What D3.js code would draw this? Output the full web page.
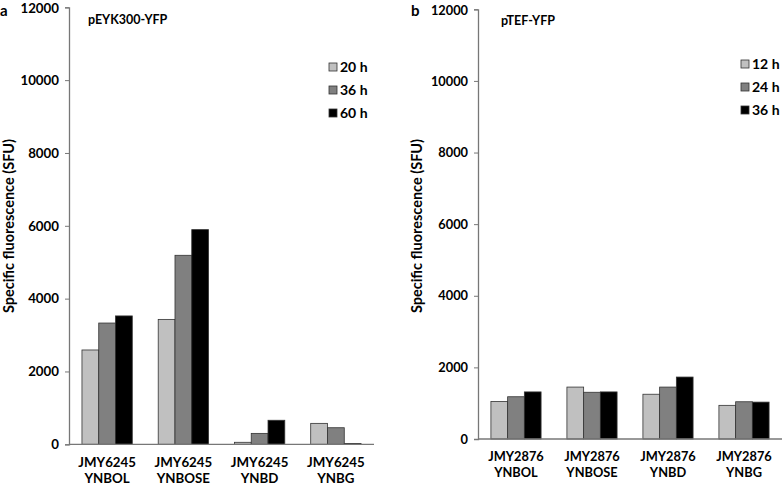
<!DOCTYPE html>
<html><head><meta charset="utf-8">
<script src="https://cdn.jsdelivr.net/npm/d3@7"></script>
<style>
body{margin:0;background:#fff;}
text{font-family:Lato,"Open Sans",sans-serif;font-weight:700;fill:#000;}
</style></head>
<body><svg id="c" width="784" height="486"></svg>
<script>
const categoriesA = ["JMY6245|YNBOL","JMY6245|YNBOSE","JMY6245|YNBD","JMY6245|YNBG"];
const seriesNamesA = ["20 h","36 h","60 h"];
const valuesA20 = [2590, 3430, 55, 575];
const valuesA36 = [3330, 5190, 300, 455];
const valuesA60 = [3525, 5895, 660, 20];

const categoriesB = ["JMY2876|YNBOL","JMY2876|YNBOSE","JMY2876|YNBD","JMY2876|YNBG"];
const seriesNamesB = ["12 h","24 h","36 h"];
const valuesB12 = [1050, 1450, 1250, 940];
const valuesB24 = [1180, 1305, 1450, 1040];
const valuesB36 = [1315, 1315, 1730, 1030];

const yTicks = [0,2000,4000,6000,8000,10000,12000];
const colors = ["#c0c0c0","#808080","#000000"];

const svg = d3.select("#c");

function panel(o){
  const g = svg.append("g");
  const y = d3.scaleLinear().domain([0,12000]).range([o.y0,o.y1]);
  const x0 = d3.scaleBand().domain(o.cats).range([o.xl,o.xr]).paddingInner(0.34).paddingOuter(0.17);
  const x1 = d3.scaleBand().domain([0,1,2]).range([0,x0.bandwidth()]);
  o.cats.forEach((c,i)=>{
    o.series.forEach((vals,s)=>{
      g.append("rect")
        .attr("x", x0(c)+x1(s))
        .attr("y", y(vals[i]))
        .attr("width", x1.bandwidth())
        .attr("height", y(0)-y(vals[i]))
        .attr("fill", colors[s])
        .attr("stroke","#333").attr("stroke-width",0.8);
    });
  });
  const ya = g.append("g").attr("transform",`translate(${o.xl},0)`)
    .call(d3.axisLeft(y).tickValues(yTicks).tickSize(4).tickFormat(d3.format("d")));
  ya.select(".domain").attr("stroke","#777").attr("stroke-width",1.3);
  ya.selectAll(".tick line").attr("stroke","#777");
  ya.selectAll("text").attr("font-size",o.fs).attr("x",-10)
    .attr("dy", d => d === 12000 ? "0.42em" : "0.32em");
  g.append("line").attr("x1",o.xl).attr("x2",o.xr).attr("y1",y(0)).attr("y2",y(0))
    .attr("stroke","#777").attr("stroke-width",1.3);
  o.cats.forEach(c=>{
    const parts = c.split("|");
    const cx = x0(c)+x0.bandwidth()/2;
    const t = g.append("text").attr("text-anchor","middle").attr("font-size",o.fs);
    t.append("tspan").attr("x",cx).attr("y",y(0)+o.l1).text(parts[0]);
    t.append("tspan").attr("x",cx).attr("y",y(0)+o.l2).text(parts[1]);
  });
  g.append("text").attr("transform",`translate(${o.labx},${o.laby}) rotate(-90)`)
    .attr("text-anchor","middle").attr("font-size",14.5).attr("dy","0.35em")
    .text("Specific fluorescence (SFU)");
  g.append("text").attr("x",o.letx).attr("y",o.lety).attr("font-size",15).text(o.letter);
  g.append("text").attr("x",o.tx).attr("y",o.ty).attr("font-size",12.5).text(o.title);
  o.names.forEach((n,i)=>{
    const ly = o.ly + i*23;
    g.append("rect").attr("x",o.lx).attr("y",ly-4).attr("width",8).attr("height",8)
      .attr("fill",colors[i]).attr("stroke","#333").attr("stroke-width",0.8);
    g.append("text").attr("x",o.lx+11).attr("y",ly).attr("dy","0.36em").attr("font-size",14).text(n);
  });
}

panel({cats:categoriesA, series:[valuesA20,valuesA36,valuesA60], names:seriesNamesA, fs:13.3,
  xl:69, xr:374, y0:444.3, y1:7.3, labx:9, laby:226, letter:"a", letx:0, lety:15.5, l1:23, l2:38.5,
  title:"pEYK300-YFP", tx:88, ty:24, lx:329, ly:67});
panel({cats:categoriesB, series:[valuesB12,valuesB24,valuesB36], names:seriesNamesB, fs:12.8,
  xl:478, xr:782, y0:439, y1:9.3, labx:417, laby:226, letter:"b", letx:411, lety:16, l1:22, l2:37.5,
  title:"pTEF-YFP", tx:501, ty:25, lx:741, ly:64});
</script></body></html>
